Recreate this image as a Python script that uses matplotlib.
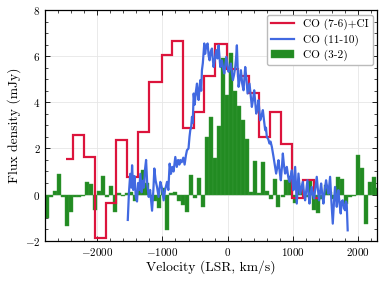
import matplotlib
matplotlib.use("Agg")
import matplotlib.pyplot as plt
import numpy as np

plt.rcParams['font.family'] = 'serif'
plt.rcParams['font.serif'] = ['cmr10', 'DejaVu Serif']
plt.rcParams['mathtext.fontset'] = 'cm'
plt.rcParams['axes.formatter.use_mathtext'] = True
plt.rcParams['axes.unicode_minus'] = True

# CO (7-6)+CI : stepped spectrum (bin edges, values)
red_edges = [-2480, -2382, -2209, -2035, -1861, -1708, -1539, -1375, -1201, -1012,
             -849, -690, -521, -368, -189, -10, 153, 322, 486, 644, 823, 997, 1160,
             1334, 1420]
red_vals = [1.55, 2.6, 1.63, -1.89, -0.36, 2.38, 0.77, 2.73, 4.87, 6.07, 6.65,
            2.89, 3.58, 5.13, 6.52, 5.43, 5.12, 4.39, 2.51, 3.6, 2.18, -0.16, 0.61,
            -0.15]

# CO (11-10)
blue_v = [-1533, -1515, -1495, -1478, -1467, -1450, -1430, -1410, -1391, -1375,
          -1358, -1340, -1320, -1300, -1285, -1268, -1252, -1235, -1212, -1190,
          -1160, -1140, -1125, -1105, -1084, -1060, -1033, -1010, -982, -960,
          -930, -910, -890, -870, -850, -830, -803, -780, -760, -740,
          -726, -705, -680, -660, -640, -624, -600, -585, -573, -560,
          -547, -535, -521, -505, -490, -470, -457, -445, -432, -419,
          -405, -394, -380, -358, -345, -330, -307, -290, -276, -258,
          -240, -228, -215, -195, -174, -155, -138, -125, -112, -100,
          -87, -70, -51, -35, -20, 0, 15, 35, 51, 65,
          82, 100, 118, 130, 143, 155, 169, 188, 205, 225,
          245, 258, 271, 290, 307, 322, 337, 355, 373, 390,
          409, 425, 440, 458, 475, 490, 501, 520, 542, 560,
          578, 590, 603, 625, 644, 660, 680, 695, 706, 725,
          746, 765, 782, 800, 818, 835, 849, 865, 884, 897,
          910, 930, 951, 970, 987, 1000, 1012, 1025, 1038, 1050,
          1063, 1076, 1089, 1102, 1115, 1135, 1155, 1172, 1191, 1210,
          1227, 1242, 1258, 1275, 1293, 1310, 1329, 1350, 1370, 1388,
          1406, 1420, 1437, 1455, 1472, 1492, 1513, 1530, 1549, 1562,
          1575, 1595, 1616, 1635, 1651, 1665, 1677, 1690, 1702, 1720,
          1738, 1752, 1769, 1788, 1805, 1818, 1830, 1845]
blue_y = [-1.1, 0.1, 0.9, 0.3, 1.27, 0.2, 0.8, -0.1, -0.3, 0.5,
          0.2, 0.9, 0.1, 0.6, 0.3, 1.1, 1.5, 0.5, -0.1, 0.2,
          -0.7, 0.2, 1.13, 0.6, 0.33, -0.1, 0.55, 0.3, -0.25, 0.2,
          0.55, 0.2, 1.34, 0.9, 1.2, 1.0, 1.63, 1.2, 1.5, 1.3,
          1.5, 1.4, 1.6, 1.3, 1.7, 1.92, 2.0, 2.5, 2.79, 2.9,
          3.37, 3.1, 4.38, 3.9, 4.4, 4.81, 4.3, 4.1, 4.6, 4.96,
          4.5, 5.39, 5.7, 6.55, 6.1, 6.4, 6.55, 6.0, 5.82, 6.2,
          6.33, 5.9, 5.53, 5.9, 6.26, 5.9, 6.47, 6.0, 5.53, 5.7,
          5.82, 5.5, 5.25, 5.6, 5.97, 5.6, 5.32, 5.5, 5.68, 5.3,
          4.96, 5.2, 5.53, 5.9, 6.47, 5.5, 4.67, 5.0, 5.39, 4.8,
          4.52, 5.0, 5.53, 5.0, 4.38, 4.6, 4.81, 4.3, 3.8, 4.1,
          4.52, 4.0, 3.51, 3.7, 4.09, 3.6, 3.22, 3.4, 3.66, 3.2,
          2.79, 2.9, 2.5, 2.4, 2.21, 2.3, 2.07, 1.8, 1.63, 1.3,
          0.91, 1.2, 1.49, 1.0, 0.62, 1.2, 1.78, 1.3, 0.91, 1.0,
          1.2, 0.8, 0.55, 0.8, 1.05, 0.5, 0.19, 0.7, 1.2, 0.4,
          -0.39, 0.3, 0.91, 0.5, 0.04, 0.3, 0.55, 0.1, -0.25, 0.2,
          0.62, 0.1, -0.39, 0.0, 0.33, 0.0, -0.17, 0.3, 0.77, 0.2,
          -0.25, 0.1, 0.48, 0.0, -0.39, 0.2, 0.62, 0.3, 0.04, 0.4,
          0.77, -0.3, -1.26, -0.3, 0.33, -0.1, -0.53, -0.1, 0.19, -0.4,
          -0.82, -0.3, -0.25, -0.6, -0.68, -0.3, -0.39, -1.55]

# CO (3-2) : channel centres and fluxes
green_v = [-2776, -2715, -2653, -2592, -2531, -2469, -2408, -2347, -2285, -2224,
           -2163, -2101, -2040, -1978, -1917, -1856, -1794, -1733, -1672, -1610,
           -1549, -1488, -1426, -1365, -1304, -1242, -1181, -1120, -1058, -997,
           -935, -874, -813, -751, -690, -629, -567, -506, -445, -383,
           -322, -261, -199, -138, -77, -15, 46, 107, 169, 230,
           292, 353, 414, 476, 537, 598, 660, 721, 782, 844,
           905, 966, 1028, 1089, 1150, 1212, 1273, 1335, 1396, 1457,
           1519, 1580, 1641, 1703, 1764, 1825, 1887, 1948, 2009, 2071,
           2132, 2193, 2255, 2316]
green_y = [-1.0, -0.1, 0.15, 0.9, -0.1, -1.35, -0.75, -0.1, -0.1, -0.05,
           0.55, 0.45, -0.65, 0.15, 0.8, -0.12, 0.35, -0.75, 0.05, -0.05,
           0.05, 0.1, -0.3, 0.27, 1.07, 0.5, -0.1, -0.3, -0.6, 0.3,
           -1.53, 0.05, 0.1, -0.3, -0.45, -0.74, 0.85, -0.16, 0.7, -0.52,
           2.49, 3.38, 1.57, 2.99, 5.9, 4.32, 6.15, 4.47, 3.82, 3.24,
           2.4, 0.13, 1.44, 0.06, 1.42, 0.15, -0.2, 0.68, -0.55, -0.1,
           0.62, 0.8, -0.35, 0.5, 0.2, -0.1, 0.6, -0.66, -0.78, -0.2,
           0.4, 0.1, -0.2, 0.75, 0.68, -0.4, -0.1, -0.05, 1.72, 1.13,
           -1.28, 0.55, 0.77, 0.3]
green_width = 61.35

fig = plt.figure(figsize=(3.82, 2.81), dpi=100)
ax = fig.add_axes([0.1186, 0.1434, 0.8691, 0.8210])

ax.bar(green_v, green_y, width=green_width, color='#228B22', edgecolor='#3a9a3a',
       linewidth=0.3, label='CO (3-2)', zorder=2)
ax.stairs(red_vals, red_edges, baseline=None, color='#DC143C', linewidth=1.6,
          label='CO (7-6)+CI', zorder=3)
ax.plot(blue_v, blue_y, color='#4169E1', linewidth=1.6, label='CO (11-10)', zorder=4)

ax.set_xlim(-2800, 2300)
ax.set_ylim(-2, 8)
ax.set_xticks([-2000, -1000, 0, 1000, 2000])
ax.set_yticks([-2, 0, 2, 4, 6, 8])
ax.set_xticks(np.arange(-2800, 2301, 200), minor=True)
ax.set_yticks(np.arange(-2, 8.01, 0.5), minor=True)
ax.tick_params(which='both', direction='in', top=True, right=True, labelsize=8)
ax.tick_params(which='major', length=3.5, width=0.6)
ax.tick_params(which='minor', length=2, width=0.5)
for s in ax.spines.values():
    s.set_linewidth(0.9)
ax.grid(True, which='major', color='#e6e6e6', linewidth=0.6, zorder=0)
ax.set_axisbelow(True)

ax.set_xlabel('Velocity (LSR, km/s)', fontsize=9.8, labelpad=2)
ax.set_ylabel('Flux density (mJy)', fontsize=9.8, labelpad=3)

h, l = ax.get_legend_handles_labels()
order = [l.index('CO (7-6)+CI'), l.index('CO (11-10)'), l.index('CO (3-2)')]
ax.legend([h[i] for i in order], [l[i] for i in order], loc='upper right',
          fontsize=8.1, frameon=True, fancybox=True, edgecolor='#bbbbbb',
          framealpha=1, borderpad=0.4, handlelength=2.0, labelspacing=0.35,
          borderaxespad=0.4)

fig.savefig('out.png', dpi=100)
